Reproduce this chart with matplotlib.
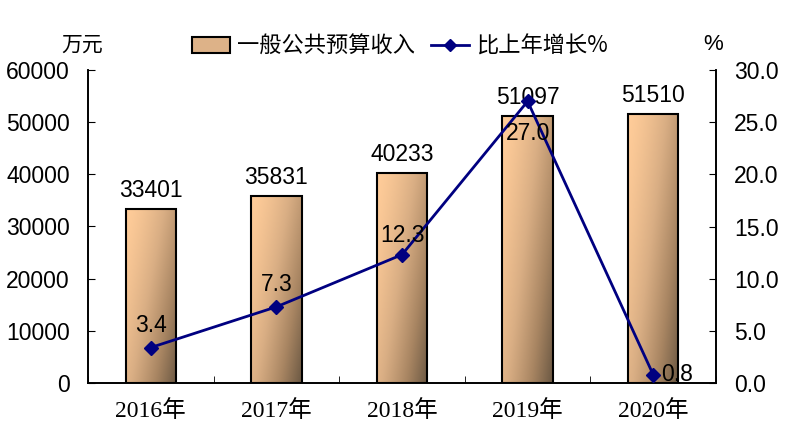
import matplotlib
matplotlib.use("Agg")
import matplotlib.pyplot as plt
import numpy as np
from matplotlib.colors import LinearSegmentedColormap
from matplotlib.lines import Line2D
from matplotlib.patches import Patch

# data
years = ["2016年", "2017年", "2018年", "2019年", "2020年"]
income = [33401, 35831, 40233, 51097, 51510]
growth = [3.4, 7.3, 12.3, 27.0, 0.8]

# text placement of growth labels (offset in points)
g_offsets = [(0, 16), (0, 16), (0, 14), (0, -23), (6, 0)]
g_align = ["center", "center", "center", "center", "left"]

num_font = "Liberation Sans"
cjk = ["Noto Sans CJK SC", "DejaVu Sans"]
xlab_font = ["Liberation Serif", "Noto Sans CJK SC"]
fs = 16.5

fig = plt.figure(figsize=(8.06, 4.34), dpi=100)
ax = fig.add_axes([88/806, 1 - 383/434, (716 - 88)/806, (383 - 70)/434])
ax2 = ax.twinx()

x = np.arange(len(years))
w = 0.4
cmap = LinearSegmentedColormap.from_list("bar", ["#FFCC99", "#D9AE84", "#A88562", "#6B5843"])

bars = ax.bar(x, income, width=w, facecolor="none", edgecolor="black", linewidth=1.5, zorder=3)

# gradient fill for each bar
gx, gy = np.meshgrid(np.linspace(0, 1, 60), np.linspace(0, 1, 200))
t = (0.6 * gx + 0.4 * gy) ** 1.4
for b in bars:
    x0, y0 = b.get_x(), b.get_y()
    im = ax.imshow(t, cmap=cmap, extent=(x0, x0 + b.get_width(), y0, y0 + b.get_height()),
                   origin="upper", aspect="auto", zorder=2, vmin=0, vmax=1)
    im.set_clip_path(b)

for xi, v in zip(x, income):
    ax.annotate(str(v), (xi, v), xytext=(0, 5), textcoords="offset points",
                ha="center", va="bottom", fontsize=fs, family=num_font, zorder=5)

ax.set_xlim(-0.5, len(years) - 0.5)
ax.set_ylim(0, 60000)
ax.set_yticks(np.arange(0, 60001, 10000))
ax.set_xticks(x)
ax.set_xticklabels(years, family=xlab_font, fontsize=17)
ax.set_xticks(np.arange(-0.5, len(years)), minor=True)
ax.tick_params(axis="x", which="major", length=0, pad=12)
ax.tick_params(axis="x", which="minor", direction="in", length=5)
ax.tick_params(axis="y", direction="in", length=5, pad=13, labelsize=fs)
for lab in ax.get_yticklabels():
    lab.set_family(num_font)

ax2.plot(x, growth, color="#000080", lw=2, marker="D", markersize=7, zorder=4)
for xi, g, off, ha in zip(x, growth, g_offsets, g_align):
    ax2.annotate(f"{g:.1f}", (xi, g), xytext=off, textcoords="offset points",
                 ha=ha, va="center", fontsize=fs, family=num_font, zorder=5)
ax2.set_ylim(0, 30)
ax2.set_yticks(np.arange(0, 30.1, 5))
ax2.set_yticklabels([f"{v:.1f}" for v in np.arange(0, 30.1, 5)], family=num_font)
ax2.tick_params(axis="y", direction="in", length=5, pad=13, labelsize=fs)

for a in (ax, ax2):
    a.spines["top"].set_visible(False)
    for s in ("left", "right", "bottom"):
        a.spines[s].set_linewidth(1.2)

# units
fig.text(82/806, 1 - 45/434, "万元", family=cjk, fontsize=15, ha="center", va="center")
fig.text(713/806, 1 - 45/434, "%", family=num_font, fontsize=16, ha="center", va="center")

handles = [Patch(facecolor="#DDB288", edgecolor="black", linewidth=1.5),
           Line2D([], [], color="#000080", lw=2, marker="D", markersize=6)]
fig.legend(handles, ["一般公共预算收入", "比上年增长%"], loc="center",
           bbox_to_anchor=(400/806, 1 - 46/434), ncol=2, frameon=False,
           prop={"family": cjk, "size": 16}, handlelength=1.7, handletextpad=0.35,
           columnspacing=0.7)

fig.savefig("out.png", dpi=100)
